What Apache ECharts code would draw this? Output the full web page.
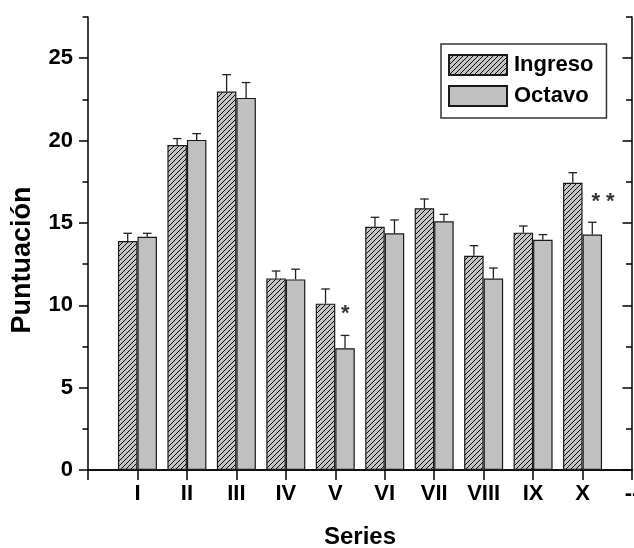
<!DOCTYPE html>
<html>
<head>
<meta charset="utf-8">
<script src="https://cdn.jsdelivr.net/npm/echarts@6.0.0/dist/echarts.min.js"></script>
<style>
  html, body { margin: 0; padding: 0; background: #fff; }
  #chart { width: 634px; height: 548px; }
</style>
</head>
<body>
<div id="chart"></div>
<script>
// data
const categories = ['I', 'II', 'III', 'IV', 'V', 'VI', 'VII', 'VIII', 'IX', 'X']
const ingreso = [13.9, 19.73, 22.97, 11.63, 10.1, 14.77, 15.89, 13.01, 14.41, 17.44]
const ingresoErr = [0.47, 0.39, 1.03, 0.45, 0.89, 0.57, 0.56, 0.61, 0.4, 0.61]
const octavo = [14.16, 20.04, 22.59, 11.57, 7.39, 14.37, 15.1, 11.62, 13.98, 14.29]
const octavoErr = [0.21, 0.38, 0.93, 0.62, 0.78, 0.81, 0.42, 0.64, 0.31, 0.75]
const yMajorTicks = [0, 5, 10, 15, 20, 25]
const yMinorTicks = [2.5, 7.5, 12.5, 17.5, 22.5, 27.5]
// significance marks: category, y, text
const marks = [['V', 9.47, '*'], ['X', 16.27, '* *']]

const axisCats = [''].concat(categories, ['--'])
const font = '"Liberation Sans", Arial, sans-serif'
const barW = 19.5

// hatch pattern for Ingreso
const hatch = document.createElement('canvas')
hatch.width = 5
hatch.height = 5
const hc = hatch.getContext('2d')
hc.fillStyle = '#c4c4c4'
hc.fillRect(0, 0, 5, 5)
hc.strokeStyle = '#0a0a0a'
hc.lineWidth = 1
hc.beginPath()
hc.moveTo(-1, 6); hc.lineTo(6, -1)
hc.moveTo(-1, 1); hc.lineTo(1, -1)
hc.moveTo(4, 6); hc.lineTo(6, 4)
hc.stroke()

const errorItem = shift => (params, api) => {
  const base = api.coord([api.value(0), api.value(1)])
  const top = api.coord([api.value(0), api.value(2)])
  const cx = base[0] + shift
  const st = { stroke: '#222', lineWidth: 1.3 }
  return {
    type: 'group',
    children: [
      { type: 'line', shape: { x1: cx, y1: base[1], x2: cx, y2: top[1] }, style: st },
      { type: 'line', shape: { x1: cx - 4.3, y1: top[1], x2: cx + 4.3, y2: top[1] }, style: st }
    ]
  }
}

const yBase = { type: 'value', min: 0, max: 27.5, splitLine: { show: false } }
const lineStyle = { color: '#000', width: 1.5 }

const chart = echarts.init(document.getElementById('chart'))
chart.setOption({
  animation: false,
  grid: { left: 88, right: 2, top: 17, bottom: 78, outerBoundsMode: 'none' },
  legend: {
    orient: 'vertical',
    left: 441,
    top: 44,
    itemWidth: 58,
    itemHeight: 20,
    itemGap: 9,
    padding: [10, 13, 11, 7],
    borderColor: '#333',
    borderWidth: 1.5,
    icon: 'rect',
    data: ['Ingreso', 'Octavo'],
    textStyle: { fontSize: 22, fontWeight: 'bold', color: '#000', fontFamily: font, padding: [0, 0, 0, 2] }
  },
  xAxis: [
    {
      type: 'category',
      data: axisCats,
      boundaryGap: false,
      position: 'bottom',
      axisLine: { lineStyle },
      axisTick: { length: 10, interval: 0, lineStyle: { color: '#000', width: 1.5 } },
      axisLabel: { interval: 0, margin: 13, fontSize: 22, fontWeight: 'bold', color: '#000', fontFamily: font },
      name: 'Series',
      nameLocation: 'middle',
      nameGap: 55,
      nameTextStyle: { fontSize: 24, fontWeight: 'bold', color: '#000', fontFamily: font }
    },
    {
      type: 'category',
      data: axisCats,
      boundaryGap: false,
      position: 'top',
      axisLine: { lineStyle },
      axisTick: { inside: true, length: 8, interval: i => i >= 1 && i <= 10, lineStyle: { color: '#000', width: 1.5 } },
      axisLabel: { show: false }
    }
  ],
  yAxis: [
    Object.assign({}, yBase, {
      position: 'left',
      axisLine: { show: true, lineStyle },
      axisTick: { show: true, length: 9, customValues: yMajorTicks, lineStyle: { color: '#000', width: 1.5 } },
      axisLabel: { customValues: yMajorTicks, margin: 15, fontSize: 22, fontWeight: 'bold', color: '#000', fontFamily: font }
    }),
    Object.assign({}, yBase, {
      position: 'left',
      axisLine: { show: false },
      axisTick: { show: true, length: 5.5, customValues: yMinorTicks, lineStyle: { color: '#000', width: 1.5 } },
      axisLabel: { show: false }
    }),
    Object.assign({}, yBase, {
      position: 'right',
      axisLine: { show: true, lineStyle },
      axisTick: { show: true, inside: true, length: 9.5, customValues: yMajorTicks, lineStyle: { color: '#000', width: 1.5 } },
      axisLabel: { show: false }
    }),
    Object.assign({}, yBase, {
      position: 'right',
      axisLine: { show: false },
      axisTick: { show: true, inside: true, length: 6, customValues: yMinorTicks, lineStyle: { color: '#000', width: 1.5 } },
      axisLabel: { show: false }
    })
  ],
  graphic: [
    {
      type: 'text',
      x: 23,
      y: 260,
      rotation: Math.PI / 2,
      style: {
        text: 'Puntuación',
        font: 'bold 27px ' + font,
        fill: '#000',
        textAlign: 'center',
        textVerticalAlign: 'middle'
      }
    }
  ],
  series: [
    {
      name: 'Ingreso',
      type: 'bar',
      barWidth: barW,
      barGap: '0%',
      itemStyle: { color: { image: hatch, repeat: 'repeat' }, borderColor: '#1a1a1a', borderWidth: 1.2 },
      data: categories.map((c, i) => [c, ingreso[i]])
    },
    {
      name: 'Octavo',
      type: 'bar',
      barWidth: barW,
      barGap: '0%',
      itemStyle: { color: '#c0c0c0', borderColor: '#1a1a1a', borderWidth: 1.2 },
      data: categories.map((c, i) => [c, octavo[i]])
    },
    {
      name: 'errIngreso',
      type: 'custom',
      z: 5,
      renderItem: errorItem(-barW / 2),
      data: categories.map((c, i) => [i + 1, ingreso[i], ingreso[i] + ingresoErr[i]])
    },
    {
      name: 'errOctavo',
      type: 'custom',
      z: 5,
      renderItem: errorItem(barW / 2),
      data: categories.map((c, i) => [i + 1, octavo[i], octavo[i] + octavoErr[i]])
    },
    {
      name: 'marks',
      type: 'scatter',
      symbolSize: 0,
      z: 6,
      data: marks.map(m => ({ value: [m[0], m[1]], text: m[2] })),
      label: {
        show: true,
        position: 'inside',
        formatter: p => p.data.text,
        fontSize: 22,
        fontWeight: 'bold',
        color: '#000',
        fontFamily: font
      },
      labelLayout: p => ({ dx: p.dataIndex === 0 ? 10 : 20.5 })
    }
  ]
})
</script>
</body>
</html>
